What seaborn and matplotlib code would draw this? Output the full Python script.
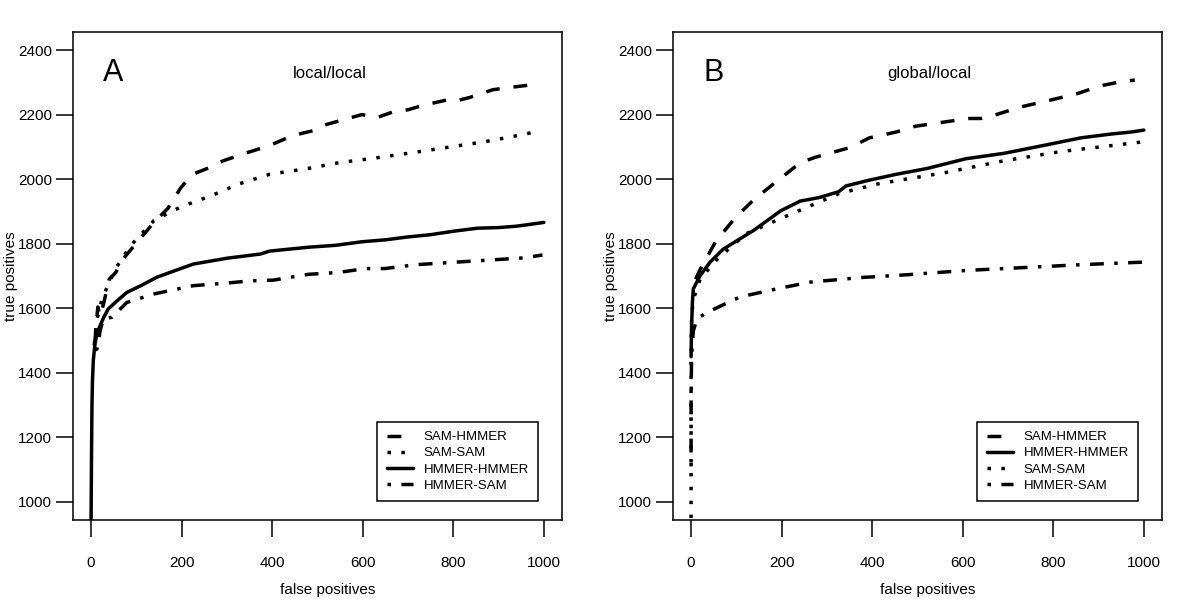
import matplotlib
matplotlib.use("Agg")
import matplotlib.pyplot as plt
import seaborn as sns
import pandas as pd

# ---- panel A : local/local ----
a_sam_hmmer_x = [8, 12, 15, 20, 28, 40, 54, 75, 96, 120, 139, 170, 198, 224, 260, 292, 340, 394, 445, 490, 521, 560, 598, 632, 666, 700, 734, 785, 802, 836, 887, 930, 972, 985]
a_sam_hmmer_y = [1490, 1560, 1604, 1575, 1616, 1690, 1710, 1760, 1795, 1835, 1866, 1910, 1973, 2015, 2035, 2057, 2080, 2104, 2135, 2150, 2170, 2185, 2200, 2191, 2208, 2215, 2229, 2245, 2241, 2253, 2277, 2285, 2292, 2289]
a_sam_sam_x = [7, 12, 24, 40, 54, 88, 139, 198, 266, 326, 394, 479, 547, 615, 700, 785, 870, 938, 980]
a_sam_sam_y = [1485, 1560, 1628, 1680, 1723, 1795, 1872, 1914, 1949, 1985, 2015, 2033, 2051, 2063, 2080, 2098, 2116, 2134, 2146]
a_hmmer_hmmer_x = [0, 1, 2, 3, 5, 9, 14, 20, 28, 38, 55, 79, 110, 145, 198, 226, 300, 374, 394, 479, 540, 598, 650, 700, 750, 802, 853, 900, 938, 970, 1000]
a_hmmer_hmmer_y = [945, 1150, 1300, 1372, 1440, 1494, 1525, 1546, 1572, 1598, 1620, 1649, 1670, 1696, 1723, 1737, 1755, 1768, 1777, 1789, 1795, 1806, 1812, 1821, 1828, 1839, 1848, 1850, 1854, 1860, 1866]
a_hmmer_sam_x = [10, 13, 20, 27, 46, 79, 138, 226, 300, 352, 402, 479, 547, 606, 649, 717, 785, 853, 921, 955, 997]
a_hmmer_sam_y = [1470, 1474, 1530, 1567, 1572, 1618, 1644, 1670, 1678, 1685, 1687, 1705, 1711, 1723, 1723, 1735, 1741, 1747, 1753, 1756, 1765]

# ---- panel B : global/local ----
b_sam_hmmer_x = [10, 20, 28, 54, 96, 139, 198, 241, 275, 351, 394, 453, 496, 564, 615, 640, 674, 726, 794, 853, 904, 946, 980]
b_sam_hmmer_y = [1690, 1720, 1740, 1806, 1878, 1937, 2003, 2051, 2068, 2098, 2128, 2146, 2164, 2178, 2188, 2188, 2200, 2223, 2245, 2265, 2289, 2301, 2307]
b_hmmer_hmmer_x = [0, 1, 3, 5, 20, 42, 71, 139, 198, 241, 283, 326, 342, 394, 453, 521, 606, 691, 777, 861, 929, 972, 1000]
b_hmmer_hmmer_y = [1450, 1540, 1620, 1660, 1701, 1743, 1783, 1842, 1902, 1932, 1943, 1961, 1979, 1997, 2015, 2033, 2063, 2080, 2104, 2128, 2140, 2146, 2152]
b_sam_sam_x = [0, 0, 0, 1, 3, 8, 20, 54, 120, 198, 326, 411, 564, 691, 819, 929, 1000]
b_sam_sam_y = [950, 1200, 1450, 1560, 1600, 1640, 1690, 1747, 1830, 1878, 1955, 1985, 2021, 2057, 2086, 2104, 2116]
b_hmmer_sam_x = [0, 0, 1, 5, 13, 35, 108, 189, 263, 374, 479, 606, 691, 777, 861, 1000]
b_hmmer_sam_y = [1110, 1300, 1450, 1530, 1567, 1587, 1635, 1660, 1681, 1695, 1704, 1717, 1723, 1729, 1735, 1743]

dash_styles = {
    "SAM-HMMER": (4, 4),
    "SAM-SAM": (1, 3),
    "HMMER-HMMER": None,
    "HMMER-SAM": (1, 3, 4, 3),
}

panels = [
    ("A", "local/local", [
        ("SAM-HMMER", a_sam_hmmer_x, a_sam_hmmer_y),
        ("SAM-SAM", a_sam_sam_x, a_sam_sam_y),
        ("HMMER-HMMER", a_hmmer_hmmer_x, a_hmmer_hmmer_y),
        ("HMMER-SAM", a_hmmer_sam_x, a_hmmer_sam_y),
    ]),
    ("B", "global/local", [
        ("SAM-HMMER", b_sam_hmmer_x, b_sam_hmmer_y),
        ("HMMER-HMMER", b_hmmer_hmmer_x, b_hmmer_hmmer_y),
        ("SAM-SAM", b_sam_sam_x, b_sam_sam_y),
        ("HMMER-SAM", b_hmmer_sam_x, b_hmmer_sam_y),
    ]),
]

sns.set_theme(style="ticks")
plt.rcParams["font.family"] = ["Liberation Sans", "DejaVu Sans"]
plt.rcParams["axes.edgecolor"] = "black"
plt.rcParams["axes.labelcolor"] = "black"
plt.rcParams["text.color"] = "black"
plt.rcParams["xtick.color"] = "black"
plt.rcParams["ytick.color"] = "black"

fig = plt.figure(figsize=(12, 6.01), dpi=100)

for i, (letter, title, series) in enumerate(panels):
    ax = fig.add_axes([0.0608 + 0.5 * i, 0.1348, 0.4075, 0.812])
    handles = []
    for name, xs, ys in series:
        df = pd.DataFrame({"fp": xs, "tp": ys})
        sns.lineplot(data=df, x="fp", y="tp", ax=ax, color="black", lw=2.5,
                     estimator=None, sort=False)
        line = ax.lines[-1]
        if dash_styles[name] is not None:
            line.set_dashes(dash_styles[name])
        handles.append(line)

    ax.set_xlim(-40, 1040)
    ax.set_ylim(944, 2456)
    ax.set_xticks([0, 200, 400, 600, 800, 1000])
    ax.set_yticks([1000, 1200, 1400, 1600, 1800, 2000, 2200, 2400])
    ax.tick_params(axis="both", direction="out", length=12, width=1.1, labelsize=11)
    ax.tick_params(axis="x", pad=14)
    ax.tick_params(axis="y", pad=3)
    for sp in ax.spines.values():
        sp.set_linewidth(1.1)
        sp.set_visible(True)

    ax.set_xlabel("false positives", fontsize=11)
    ax.set_ylabel("true positives", fontsize=11)
    ax.xaxis.set_label_coords(0.52, -0.13)
    ax.yaxis.set_label_coords(-0.112, 0.5)

    ax.text(0.083, 0.915, letter, transform=ax.transAxes, fontsize=22,
            ha="center", va="center")
    ax.text(0.525, 0.915, title, transform=ax.transAxes, fontsize=12,
            ha="center", va="center")

    leg = ax.legend(handles, [s[0] for s in series], loc="lower right",
                    bbox_to_anchor=(0.951, 0.039), borderaxespad=0,
                    fontsize=9.5, handlelength=2.0, handletextpad=0.8,
                    labelspacing=0.3, borderpad=0.7, fancybox=False,
                    framealpha=1, edgecolor="black")
    leg.get_frame().set_linewidth(1.1)

fig.savefig("out.png", dpi=100)
